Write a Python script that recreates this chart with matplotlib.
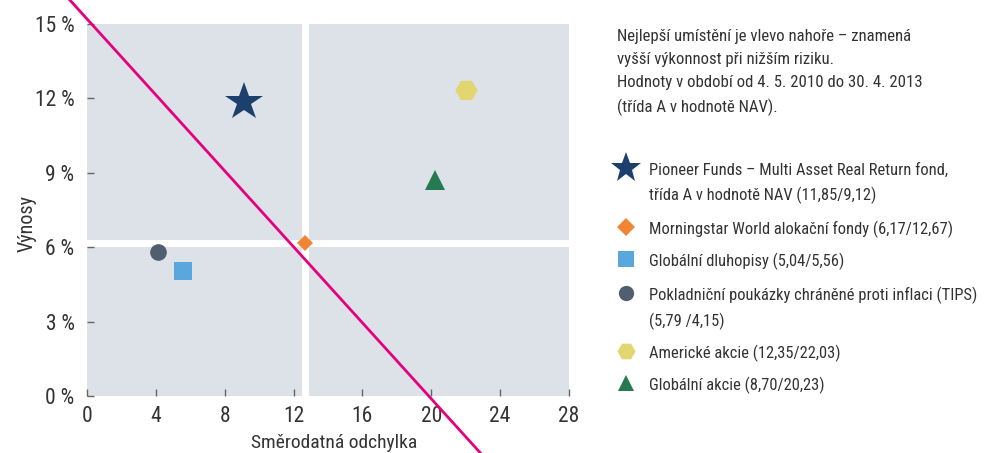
#!/usr/bin/env python3
"""Risk/return scatter: fund vs. asset classes, quadrant chart with legend text."""

import matplotlib

matplotlib.use("Agg")
import matplotlib.pyplot as plt
from matplotlib.lines import Line2D

# --- data (return %, std. deviation %) ---
names = [
    "Pioneer Funds – Multi Asset Real Return fond,\ntřída A v hodnotě NAV (11,85/9,12)",
    "Morningstar World alokační fondy (6,17/12,67)",
    "Globální dluhopisy (5,04/5,56)",
    "Pokladniční poukázky chráněné proti inflaci (TIPS)\n(5,79 /4,15)",
    "Americké akcie (12,35/22,03)",
    "Globální akcie (8,70/20,23)",
]
returns = [11.85, 6.17, 5.04, 5.79, 12.35, 8.70]
stdevs = [9.12, 12.67, 5.56, 4.15, 22.03, 20.23]

# quadrant split = Morningstar peer group
split_x = 12.67
split_y = 6.17

# magenta reference line
ref_line_x = [-1.0, 23.0]
ref_line_y = [15.97, -2.41]

x_ticks = [0, 4, 8, 12, 16, 20, 24, 28]
y_ticks = [0, 3, 6, 9, 12, 15]

note = (
    "Nejlepší umístění je vlevo nahoře – znamená\n"
    "vyšší výkonnost při nižším riziku.\n"
    "Hodnoty v období od 4. 5. 2010 do 30. 4. 2013\n"
    "(třída A v hodnotě NAV)."
)

# --- styles ---
markers = ["*", "D", "s", "o", "H", "^"]
colors = ["#1c3f6e", "#f08536", "#5aa7dd", "#4f5f6f", "#e3d56f", "#267a52"]
plot_sizes = [29, 8, 13, 12, 16, 14]
legend_sizes = [23, 9.5, 11.5, 11, 13, 11]

BG = "#dce2e8"
TEXT = "#333333"
MAGENTA = "#e6007e"

plt.rcParams["font.family"] = ["Liberation Sans Narrow", "Roboto Condensed", "DejaVu Sans"]

W, H = 986, 453
fig = plt.figure(figsize=(W / 100, H / 100), dpi=100)
ax = fig.add_axes([87 / W, (H - 396) / H, 482 / W, 372 / H])

ax.set_facecolor(BG)
for s in ax.spines.values():
    s.set_visible(False)
ax.set_xlim(0, 28)
ax.set_ylim(0, 15)

ax.axvline(split_x, color="white", lw=5, zorder=1)
ax.axhline(split_y, color="white", lw=5, zorder=1)

ax.plot(ref_line_x, ref_line_y, color=MAGENTA, lw=2, clip_on=False, zorder=2)

for sd, r, m, c, ms in zip(stdevs, returns, markers, colors, plot_sizes):
    ax.plot(sd, r, marker=m, color=c, markersize=ms, markeredgewidth=0, ls="none", zorder=3)

ax.set_xticks(x_ticks)
ax.set_yticks(y_ticks)
ax.set_yticklabels([f"{v} %" for v in y_ticks])
ax.tick_params(direction="in", length=5, width=1, color="#666666",
               labelcolor=TEXT, labelsize=15.5)
ax.tick_params(axis="x", pad=7)
ax.tick_params(axis="y", pad=9)

# axis titles placed in figure pixels
fig.text(334 / W, 1 - 452 / H, "Směrodatná odchylka", fontsize=14, color=TEXT,
         ha="center", va="bottom")
fig.text(27 / W, 1 - 223 / H, "Výnosy", fontsize=14.5, color=TEXT,
         ha="center", va="center", rotation=90)

# --- side text + legend ---
fig.text(617 / W, 1 - 29 / H, note, fontsize=12.1, color=TEXT, va="top",
         linespacing=1.66)

legend_rows = [168, 227, 259, 293, 351, 383]
text_rows = [163, 221, 253, 287, 345, 377]
for name, m, c, ms, yy, ty in zip(names, markers, colors, legend_sizes, legend_rows, text_rows):
    fig.add_artist(Line2D([626 / W], [1 - yy / H], marker=m, color=c,
                          markersize=ms, markeredgewidth=0, ls="none",
                          transform=fig.transFigure))
    fig.text(649 / W, 1 - ty / H, name, fontsize=11.9, color=TEXT,
             va="top", linespacing=1.64)

fig.savefig("out.png", dpi=100)
